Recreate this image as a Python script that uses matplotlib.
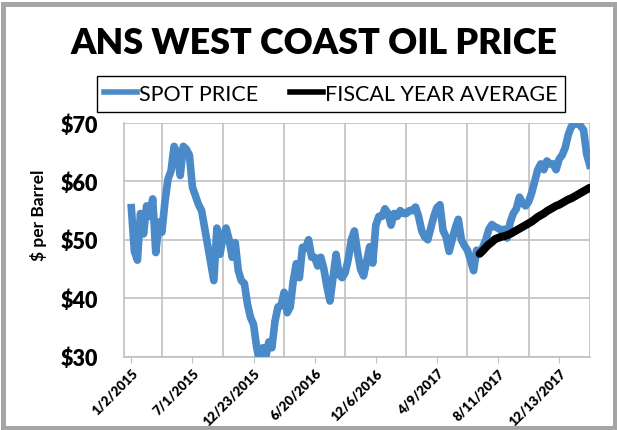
import numpy as np
import matplotlib.pyplot as plt
from matplotlib.patches import Rectangle
from matplotlib.lines import Line2D

# x axis is the observation index, a label every 20 observations
TICK_LABELS = ['1/2/2015', '7/1/2015', '12/23/2015', '6/20/2016',
               '12/6/2016', '4/9/2017', '8/11/2017', '12/13/2017']
TICK_STEP = 20

# ANS west coast spot price, $ per barrel
SPOT = [
    55.5, 48.0, 46.5, 54.5, 51.0, 55.8, 54.0, 57.0, 47.8, 53.0,
    51.3, 56.5, 60.4, 61.8, 66.0, 64.8, 61.0, 66.0, 65.5, 64.5,
    59.0, 57.5, 56.0, 55.0, 52.0, 49.0, 46.0, 43.0, 52.0, 47.5,
    50.5, 52.0, 50.0, 47.0, 49.5, 44.7, 43.0, 42.5, 39.0, 36.7,
    35.5, 31.6, 29.0, 31.5, 30.0, 32.5, 31.5, 36.0, 38.5, 38.7,
    41.0, 37.5, 38.5, 43.0, 45.9, 43.5, 48.7, 48.5, 50.0, 47.0,
    47.0, 45.5, 47.0, 45.0, 42.0, 39.5, 43.5, 47.5, 44.0, 43.5,
    44.4, 46.7, 50.0, 51.5, 48.0, 45.0, 43.8, 46.3, 48.8, 46.0,
    52.5, 54.0, 54.0, 55.3, 54.5, 52.5, 54.5, 54.0, 55.0, 54.5,
    54.5, 55.0, 55.0, 55.6, 54.0, 51.6, 50.5, 50.0, 52.0, 54.0,
    55.5, 56.0, 51.6, 50.5, 48.0, 50.0, 52.0, 53.5, 50.0, 49.0,
    48.2, 46.5, 44.7, 48.2, 47.8, 48.7, 50.0, 51.8, 52.6, 52.2,
    52.0, 51.6, 51.8, 50.3, 53.0, 54.5, 55.3, 57.3, 56.3, 55.8,
    56.5, 58.0, 60.0, 62.0, 63.0, 62.0, 63.5, 63.0, 63.0, 62.0,
    63.8, 64.5, 65.8, 68.0, 69.4, 69.8, 70.0, 69.5, 68.8, 64.7,
    62.8,
]

# fiscal year (from July 2017) running average
FY_START = 114
FY_AVG = [
    47.6, 48.1, 48.7, 49.2, 49.6, 50.1, 50.3, 50.5, 50.6, 50.8,
    51.0, 51.3, 51.6, 51.9, 52.2, 52.5, 52.8, 53.1, 53.5, 53.9,
    54.2, 54.5, 54.9, 55.2, 55.5, 55.8, 56.0, 56.3, 56.6, 56.9,
    57.1, 57.4, 57.7, 58.0, 58.3, 58.6, 58.9,
]

Y_TICKS = [30, 40, 50, 60, 70]

BLUE = '#4A8AC9'
GRID = '#C0C0C0'

plt.rcParams['font.family'] = ['Lato', 'DejaVu Sans']

W, H = 617, 431
fig = plt.figure(figsize=(W / 100, H / 100), dpi=100)

# grey outer frame
fig.patches.append(Rectangle((2.5 / W, 2.5 / H), 612 / W, 423.5 / H,
                             transform=fig.transFigure, fill=False,
                             edgecolor='#A5A5A5', linewidth=3.6))

left, right, top, bottom = 124.3, 590, 124, 357.5
ax = fig.add_axes([left / W, 1 - bottom / H, (right - left) / W, (bottom - top) / H])

x = np.arange(len(SPOT))
fy_x = np.arange(FY_START, FY_START + len(FY_AVG))

ax.plot(x, SPOT, color=BLUE, linewidth=5.5, solid_joinstyle='round', zorder=3)
ax.plot(fy_x, FY_AVG, color='black', linewidth=5.8, solid_capstyle='round', zorder=4)

ax.set_ylim(30, 70)
ax.set_xlim(-2.3, 150.1)

major = np.arange(len(TICK_LABELS)) * TICK_STEP
ax.set_xticks(major)
ax.set_xticklabels(TICK_LABELS, rotation=45, ha='right', rotation_mode='anchor',
                   fontsize=9.5, fontweight='heavy')
ax.set_xticks(major + TICK_STEP / 2, minor=True)
ax.tick_params(axis='x', which='major', length=4, color=GRID, pad=3)
ax.tick_params(axis='x', which='minor', length=0)
ax.grid(True, axis='x', which='minor', color=GRID, linewidth=1.2)

ax.set_yticks(Y_TICKS)
ax.set_yticklabels([f'${v}' for v in Y_TICKS], fontsize=15.5, fontweight='heavy')
ax.tick_params(axis='y', length=0, pad=19)
ax.grid(True, axis='y', color=GRID, linewidth=1.2)
ax.set_axisbelow(True)

for s in ['top', 'right']:
    ax.spines[s].set_visible(False)
for s in ['left', 'bottom']:
    ax.spines[s].set_color(GRID)
    ax.spines[s].set_linewidth(1.2)

ax.set_ylabel('$ per Barrel', fontsize=12.5, fontweight='bold')
ax.yaxis.set_label_coords(-0.165, 0.61)

fig.text(314 / W, 1 - 43 / H, 'ANS WEST COAST OIL PRICE', ha='center', va='center',
         fontsize=25.8, fontweight='heavy')

handles = [Line2D([], [], color=BLUE, linewidth=4),
           Line2D([], [], color='black', linewidth=4)]
fig.legend(handles, ['SPOT PRICE', 'FISCAL YEAR AVERAGE'], ncol=2,
           loc='center', bbox_to_anchor=(331 / W, 1 - 95 / H),
           frameon=True, fancybox=False, edgecolor='black', framealpha=1,
           fontsize=15.5, handlelength=1.5, handletextpad=0.1, columnspacing=1.5,
           borderpad=0.35, borderaxespad=0)

fig.savefig('out.png', dpi=100)
